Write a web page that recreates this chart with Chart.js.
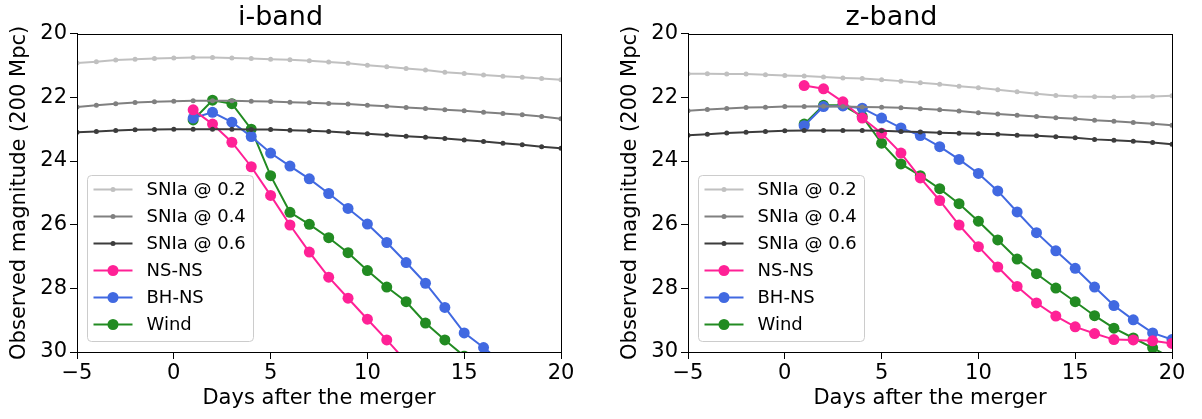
<!DOCTYPE html>
<html>
<head>
<meta charset="utf-8">
<script src="https://cdn.jsdelivr.net/npm/chart.js@4/dist/chart.umd.min.js"></script>
<style>
  body { margin: 0; background: #fff; }
  canvas { position: absolute; top: 0; }
</style>
</head>
<body>
<canvas id="iband" width="611" height="419" style="left:0"></canvas>
<canvas id="zband" width="591" height="419" style="left:611px"></canvas>
<script>
// days for SN Ia template curves and for kilonova models
const snDays = [-5, -4, -3, -2, -1, 0, 1, 2, 3, 4, 5, 6, 7, 8, 9, 10, 11, 12, 13, 14, 15, 16, 17, 18, 19, 20];
const knDays = [1, 2, 3, 4, 5, 6, 7, 8, 9, 10, 11, 12, 13, 14, 15, 16, 17, 18, 19, 20];

// i-band
const iSn02 = [20.92, 20.88, 20.83, 20.80, 20.78, 20.76, 20.75, 20.75, 20.76, 20.78, 20.80, 20.82, 20.85, 20.89, 20.93, 20.99, 21.04, 21.09, 21.14, 21.21, 21.25, 21.30, 21.34, 21.37, 21.41, 21.45];
const iSn04 = [22.30, 22.25, 22.20, 22.16, 22.14, 22.12, 22.11, 22.11, 22.11, 22.12, 22.13, 22.15, 22.17, 22.19, 22.21, 22.25, 22.28, 22.32, 22.35, 22.39, 22.42, 22.47, 22.51, 22.55, 22.60, 22.67];
const iSn06 = [23.10, 23.07, 23.04, 23.02, 23.01, 23.00, 23.00, 23.00, 23.00, 23.01, 23.01, 23.03, 23.05, 23.07, 23.11, 23.14, 23.18, 23.22, 23.25, 23.29, 23.34, 23.39, 23.44, 23.49, 23.55, 23.60];
const iNsns = [22.39, 22.84, 23.41, 24.18, 25.08, 26.01, 26.86, 27.65, 28.31, 28.97, 29.62, 30.30];
const iBhns = [22.65, 22.47, 22.78, 23.23, 23.75, 24.16, 24.56, 25.02, 25.49, 25.98, 26.56, 27.19, 27.84, 28.60, 29.40, 29.86, 30.35];
const iWind = [22.71, 22.09, 22.20, 23.00, 24.46, 25.61, 25.99, 26.41, 26.88, 27.44, 27.96, 28.42, 29.09, 29.62, 30.13];

// z-band
const zSn02 = [21.26, 21.26, 21.27, 21.27, 21.29, 21.31, 21.33, 21.36, 21.39, 21.41, 21.45, 21.49, 21.54, 21.59, 21.65, 21.70, 21.76, 21.82, 21.89, 21.94, 21.97, 21.98, 21.99, 21.98, 21.97, 21.95];
const zSn04 = [22.42, 22.38, 22.35, 22.32, 22.31, 22.29, 22.29, 22.28, 22.29, 22.30, 22.31, 22.33, 22.36, 22.39, 22.43, 22.48, 22.52, 22.56, 22.60, 22.64, 22.67, 22.72, 22.75, 22.79, 22.83, 22.88];
const zSn06 = [23.19, 23.16, 23.12, 23.10, 23.07, 23.05, 23.04, 23.04, 23.04, 23.04, 23.05, 23.07, 23.09, 23.11, 23.13, 23.14, 23.16, 23.19, 23.21, 23.24, 23.27, 23.32, 23.35, 23.38, 23.42, 23.47];
const zNsns = [21.63, 21.73, 22.14, 22.65, 23.13, 23.75, 24.53, 25.24, 26.01, 26.69, 27.33, 27.94, 28.46, 28.87, 29.21, 29.42, 29.61, 29.62, 29.65, 29.73];
const zBhns = [22.89, 22.29, 22.27, 22.34, 22.65, 22.96, 23.20, 23.55, 23.95, 24.39, 24.94, 25.60, 26.25, 26.82, 27.37, 27.96, 28.54, 28.99, 29.40, 29.61];
const zWind = [22.84, 22.25, 22.25, 22.60, 23.44, 24.09, 24.46, 24.87, 25.34, 25.89, 26.48, 27.08, 27.54, 27.99, 28.42, 28.86, 29.25, 29.56, 29.87, 30.20];

const yTicks = [20, 22, 24, 26, 28, 30];
const xTicks = [-5, 0, 5, 10, 15, 20];

const FONT = 'DejaVu Sans';

function pts(days, vals) {
  return vals.map((v, i) => ({ x: days[i], y: v }));
}

function sn(label, color, days, vals) {
  return {
    label: label, data: pts(days, vals),
    borderColor: color, backgroundColor: color,
    borderWidth: 2, pointRadius: 2.5, pointBorderWidth: 0,
    tension: 0, clip: 0
  };
}

function kn(label, color, vals) {
  return {
    label: label, data: pts(knDays, vals),
    borderColor: color, backgroundColor: color,
    borderWidth: 2, pointRadius: 5.5, pointBorderWidth: 0,
    tension: 0, clip: 0
  };
}

// box around the axes + matplotlib-style legend inside bottom-left
const framePlugin = {
  id: 'frame',
  afterDatasetsDraw(chart) {
    const a = chart.chartArea;
    const ctx = chart.ctx;
    ctx.save();

    // legend
    const x0 = Math.round(a.left) + 10.5, w = 166, h = 166;
    const y0 = Math.round(a.bottom) - 10.5 - h;
    ctx.beginPath();
    ctx.roundRect(x0, y0, w, h, 4);
    ctx.fillStyle = 'rgba(255,255,255,0.8)';
    ctx.fill();
    ctx.strokeStyle = '#cccccc';
    ctx.lineWidth = 1;
    ctx.stroke();
    ctx.font = '18px "' + FONT + '"';
    ctx.textBaseline = 'middle';
    ctx.textAlign = 'left';
    chart.data.datasets.forEach((ds, i) => {
      const y = y0 + 14 + i * 27;
      ctx.strokeStyle = ds.borderColor;
      ctx.lineWidth = 2;
      ctx.beginPath();
      ctx.moveTo(x0 + 6, y);
      ctx.lineTo(x0 + 45, y);
      ctx.stroke();
      ctx.fillStyle = ds.borderColor;
      ctx.beginPath();
      ctx.arc(x0 + 25.5, y, ds.pointRadius, 0, Math.PI * 2);
      ctx.fill();
      ctx.fillStyle = '#000';
      ctx.fillText(ds.label, x0 + 59, y + 1);
    });

    ctx.strokeStyle = '#000';
    ctx.lineWidth = 1;
    ctx.strokeRect(Math.round(a.left) + 0.5, Math.round(a.top) + 0.5,
      Math.round(a.right - a.left), Math.round(a.bottom - a.top));
    ctx.restore();
  }
};

function makeChart(id, title, s2, s4, s6, nsns, bhns, wind, padRight) {
  new Chart(document.getElementById(id), {
    type: 'line',
    data: {
      datasets: [
        sn('SNIa @ 0.2', '#c0c0c0', snDays, s2),
        sn('SNIa @ 0.4', '#808080', snDays, s4),
        sn('SNIa @ 0.6', '#3c3c3c', snDays, s6),
        kn('NS-NS', '#ff2196', nsns),
        kn('BH-NS', '#4169e1', bhns),
        kn('Wind', '#228b22', wind)
      ]
    },
    options: {
      responsive: false,
      animation: false,
      layout: { padding: { left: 0, right: padRight, top: 0, bottom: 0 } },
      plugins: {
        legend: { display: false },
        tooltip: { enabled: false },
        title: {
          display: true, text: title, color: '#000',
          font: { family: FONT, size: 27, weight: 'normal', lineHeight: 1.1 },
          padding: { top: 3, bottom: 1 }
        }
      },
      scales: {
        x: {
          type: 'linear', min: -5, max: 20,
          afterFit: s => { s.height = 67; },
          afterBuildTicks: s => { s.ticks = xTicks.map(v => ({ value: v })); },
          ticks: {
            color: '#000', padding: 2, maxRotation: 0,
            font: { family: FONT, size: 21 },
            callback: v => String(v).replace('-', '\u2212')
          },
          grid: { drawOnChartArea: false, drawTicks: true, tickLength: 7, color: '#000' },
          border: { display: true, color: '#000', width: 1 },
          title: {
            display: true, text: 'Days after the merger', color: '#000',
            font: { family: FONT, size: 21 }, padding: { top: 0, bottom: 8 }
          }
        },
        y: {
          type: 'linear', min: 20, max: 30, reverse: true,
          afterFit: s => { s.width = 77; },
          afterBuildTicks: s => { s.ticks = yTicks.map(v => ({ value: v })); },
          ticks: {
            color: '#000', padding: 3,
            font: { family: FONT, size: 21 }
          },
          grid: { drawOnChartArea: false, drawTicks: true, tickLength: 7, color: '#000' },
          border: { display: true, color: '#000', width: 1 },
          title: {
            display: true, text: 'Observed magnitude (200 Mpc)', color: '#000',
            font: { family: FONT, size: 21 }, padding: { top: 7, bottom: 0 }
          }
        }
      }
    },
    plugins: [framePlugin]
  });
}

makeChart('iband', 'i-band', iSn02, iSn04, iSn06, iNsns, iBhns, iWind, 50);
makeChart('zband', 'z-band', zSn02, zSn04, zSn06, zNsns, zBhns, zWind, 30);
</script>
</body>
</html>
